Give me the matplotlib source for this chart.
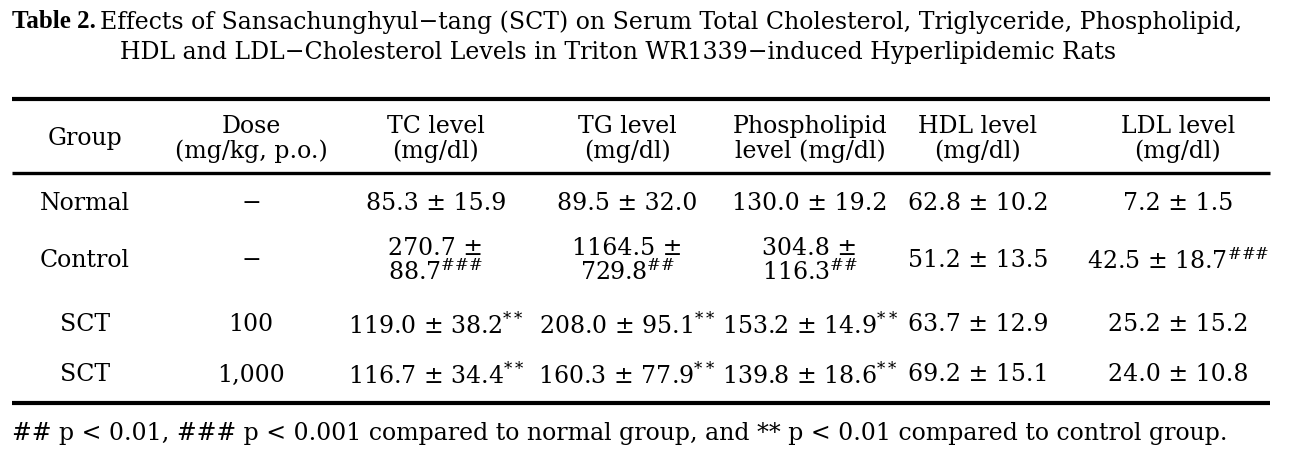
import matplotlib
matplotlib.use("Agg")
import matplotlib.pyplot as plt

plt.rcParams['font.family'] = ['DejaVu Serif']
plt.rcParams['mathtext.fontset'] = 'dejavuserif'

# table data
groups = ["Normal", "Control", "SCT", "SCT"]
doses = ["\u2212", "\u2212", "100", "1,000"]

headers = [["Group"], ["Dose", "(mg/kg, p.o.)"], ["TC level", "(mg/dl)"],
           ["TG level", "(mg/dl)"], ["Phospholipid", "level (mg/dl)"],
           ["HDL level", "(mg/dl)"], ["LDL level", "(mg/dl)"]]

tc_mean = [85.3, 270.7, 119.0, 116.7]
tc_sd = [15.9, 88.7, 38.2, 34.4]
tc_sig = ["", "###", "**", "**"]

tg_mean = [89.5, 1164.5, 208.0, 160.3]
tg_sd = [32.0, 729.8, 95.1, 77.9]
tg_sig = ["", "##", "**", "**"]

pl_mean = [130.0, 304.8, 153.2, 139.8]
pl_sd = [19.2, 116.3, 14.9, 18.6]
pl_sig = ["", "##", "**", "**"]

hdl_mean = [62.8, 51.2, 63.7, 69.2]
hdl_sd = [10.2, 13.5, 12.9, 15.1]
hdl_sig = ["", "", "", ""]

ldl_mean = [7.2, 42.5, 25.2, 24.0]
ldl_sd = [1.5, 18.7, 15.2, 10.8]
ldl_sig = ["", "###", "", ""]

# cells broken over two lines in the original (row, value column)
wrapped = [(1, 0), (1, 1), (1, 2)]

title1 = ("Effects of Sansachunghyul\u2212tang (SCT) on Serum Total Cholesterol, "
          "Triglyceride, Phospholipid,")
title2 = "HDL and LDL\u2212Cholesterol Levels in Triton WR1339\u2212induced Hyperlipidemic Rats"
footnote = ("## p < 0.01, ### p < 0.001 compared to normal group, "
            "and ** p < 0.01 compared to control group.")

W, H = 1289, 456
fig = plt.figure(figsize=(W / 100, H / 100), dpi=100)
ax = fig.add_axes([0, 0, 1, 1])
ax.set_xlim(0, W)
ax.set_ylim(H, 0)
ax.axis("off")

fs = 17
col_x = [85, 251, 436, 627, 810, 978, 1178]
row_y = [204, 261, 325, 375]

# title
ax.text(12, 22, "Table 2.", fontsize=18, fontweight="bold", family="Liberation Serif",
        ha="left", va="center")
ax.text(100, 22, title1, fontsize=fs, ha="left", va="center")
ax.text(120, 53, title2, fontsize=fs, ha="left", va="center")

# rules
ax.plot([12, 1270], [100, 100], color="black", lw=3, solid_capstyle="butt")
ax.plot([12, 1270], [174, 174], color="black", lw=2.4, solid_capstyle="butt")
ax.plot([12, 1270], [404, 404], color="black", lw=3, solid_capstyle="butt")

# header
for x, h in zip(col_x, headers):
    ax.text(x, 139, "\n".join(h), fontsize=fs, ha="center", va="center",
            multialignment="center", linespacing=1.05)


def sup(s):
    if not s:
        return ""
    return r"$^{" + s.replace("#", r"\#") + "}$"


columns = [(tc_mean, tc_sd, tc_sig), (tg_mean, tg_sd, tg_sig),
           (pl_mean, pl_sd, pl_sig), (hdl_mean, hdl_sd, hdl_sig),
           (ldl_mean, ldl_sd, ldl_sig)]

for i, y in enumerate(row_y):
    ax.text(col_x[0], y, groups[i], fontsize=fs, ha="center", va="center")
    ax.text(col_x[1], y, doses[i], fontsize=fs, ha="center", va="center")
    for j, (m, s, g) in enumerate(columns):
        sep = " \u00b1\n" if (i, j) in wrapped else " \u00b1 "
        label = f"{m[i]:.1f}{sep}{s[i]:.1f}" + sup(g[i])
        ax.text(col_x[j + 2], y, label, fontsize=fs, ha="center", va="center",
                multialignment="center", linespacing=1.0)

ax.text(12, 434, footnote, fontsize=fs, ha="left", va="center")

fig.savefig("out.png", dpi=100, facecolor="white")
